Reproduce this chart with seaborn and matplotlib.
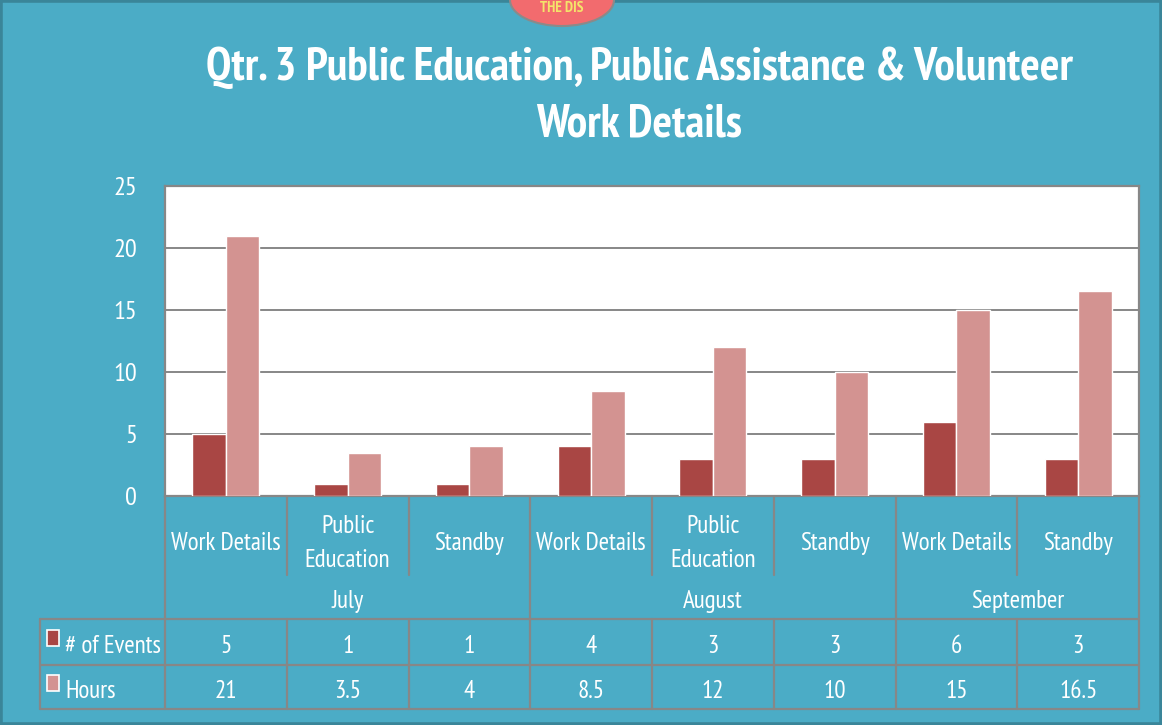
import numpy as np
import pandas as pd
import matplotlib
matplotlib.use('Agg')
import matplotlib.pyplot as plt
import matplotlib.transforms as mtransforms
from matplotlib.patches import Rectangle, Ellipse
import seaborn as sns

# data
months = ['July', 'July', 'July', 'August', 'August', 'August', 'September', 'September']
categories = ['Work Details', 'Public\nEducation', 'Standby',
              'Work Details', 'Public\nEducation', 'Standby',
              'Work Details', 'Standby']
events = [5, 1, 1, 4, 3, 3, 6, 3]
hours = [21, 3.5, 4, 8.5, 12, 10, 15, 16.5]
series_names = ['# of Events', 'Hours']
yticks = [0, 5, 10, 15, 20, 25]
title = 'Qtr. 3 Public Education, Public Assistance & Volunteer\nWork Details'

BG = '#4BACC6'
FRAME = '#3A8599'
RED = '#A94644'
PINK = '#D39391'
GREY = '#878787'

sns.set_style('white')
plt.rcParams['font.family'] = ['PT Sans Narrow', 'DejaVu Sans']

slots = [f'{m}|{c}' for m, c in zip(months, categories)]
df = pd.DataFrame({
    'slot': slots * 2,
    'series': [series_names[0]] * len(slots) + [series_names[1]] * len(slots),
    'value': events + hours,
})

fig = plt.figure(figsize=(11.62, 7.25), dpi=100)
fig.patch.set_facecolor(BG)
W, H = 1162, 725

# outer frame and the clipped badge at the top
fig.patches.append(Rectangle((0, 0), 1, 1, transform=fig.transFigure,
                             fill=False, edgecolor=FRAME, linewidth=4))
fig.patches.append(Ellipse((562 / W, 1.0), 104 / W, 52 / H, transform=fig.transFigure,
                           facecolor='#F26B6E', edgecolor='#8A8A8A', linewidth=1.5))
fig.text(562 / W, 1 - 8 / H, 'THE DIS', color='#F4E46A', fontsize=11, fontweight='bold',
         ha='center', va='center')

ax = fig.add_axes([165 / W, 1 - 496 / H, (1139 - 165) / W, (496 - 186) / H])
ax.set_facecolor('white')

sns.barplot(data=df, x='slot', y='value', hue='series', order=slots,
            hue_order=series_names, palette=[RED, PINK], saturation=1, width=0.55,
            edgecolor='white', linewidth=1, legend=False, ax=ax, zorder=3)

ax.set_ylim(0, 25)
ax.set_xlim(-0.5, len(slots) - 0.5)
ax.set_yticks(yticks)
ax.set_yticklabels([str(t) for t in yticks], color='white', fontsize=19)
ax.tick_params(axis='y', length=0, pad=20)
for lab in ax.get_yticklabels():
    lab.set_verticalalignment('center_baseline')
ax.set_xticks([])
ax.set_xlabel('')
ax.set_ylabel('')
ax.yaxis.grid(True, color=GREY, linewidth=1.4, zorder=0)
ax.set_axisbelow(True)
for s in ax.spines.values():
    s.set_color(GREY)
    s.set_linewidth(1.6)

fig.suptitle(title, color='white', fontsize=33, fontweight='bold',
             x=639 / W, y=1 - 96 / H, va='center', linespacing=1.45)

# data table under the plot (x in data units, y in axes fraction)
tr = mtransforms.blended_transform_factory(ax.transData, ax.transAxes)
r_cat, r_month, r_ev, r_hr = -0.2548, -0.3968, -0.5452, -0.6871
left = -0.5 - 125 / 121.75
n = len(slots)
dy = -0.014  # text sits a little low in its cell
lk = dict(color=GREY, linewidth=1.6, transform=tr, clip_on=False)

# horizontal lines
for r in (r_month, r_ev, r_hr):
    ax.plot([left, n - 0.5], [r, r], **lk)
ax.plot([left, left], [r_month, r_hr], **lk)

# vertical lines: month edges run the full height, the rest skip the month row
month_edges = [i for i in range(1, n) if months[i] != months[i - 1]]
for i in range(n + 1):
    x = i - 0.5
    if i in (0, n) or i in month_edges:
        ax.plot([x, x], [0, r_hr], **lk)
    else:
        ax.plot([x, x], [0, r_cat], **lk)
        ax.plot([x, x], [r_month, r_hr], **lk)

tk = dict(color='white', fontsize=18, ha='center', va='center', transform=tr)
for i, c in enumerate(categories):
    ax.text(i, -0.140 + dy, c, linespacing=1.6, **tk)
    ax.text(i, (r_month + r_ev) / 2 + dy, str(events[i]), **tk)
    ax.text(i, (r_ev + r_hr) / 2 + dy, f'{hours[i]:g}', **tk)

start = 0
for i in range(1, n + 1):
    if i == n or months[i] != months[start]:
        ax.text((start + i - 1) / 2, (r_cat + r_month) / 2 + dy, months[start], **tk)
        start = i

# row headers with legend keys
for (r0, r1), name, col in zip([(r_month, r_ev), (r_ev, r_hr)], series_names, [RED, PINK]):
    ym = (r0 + r1) / 2
    ax.text(left + 0.205, ym + dy, name, color='white', fontsize=18, ha='left', va='center',
            transform=tr)
    ax.add_patch(Rectangle((left + 0.06, ym - 0.012), 0.095, 0.05, transform=tr,
                           facecolor=col, edgecolor='white', linewidth=1.2, clip_on=False))

fig.savefig('out.png', dpi=100, facecolor=BG)
